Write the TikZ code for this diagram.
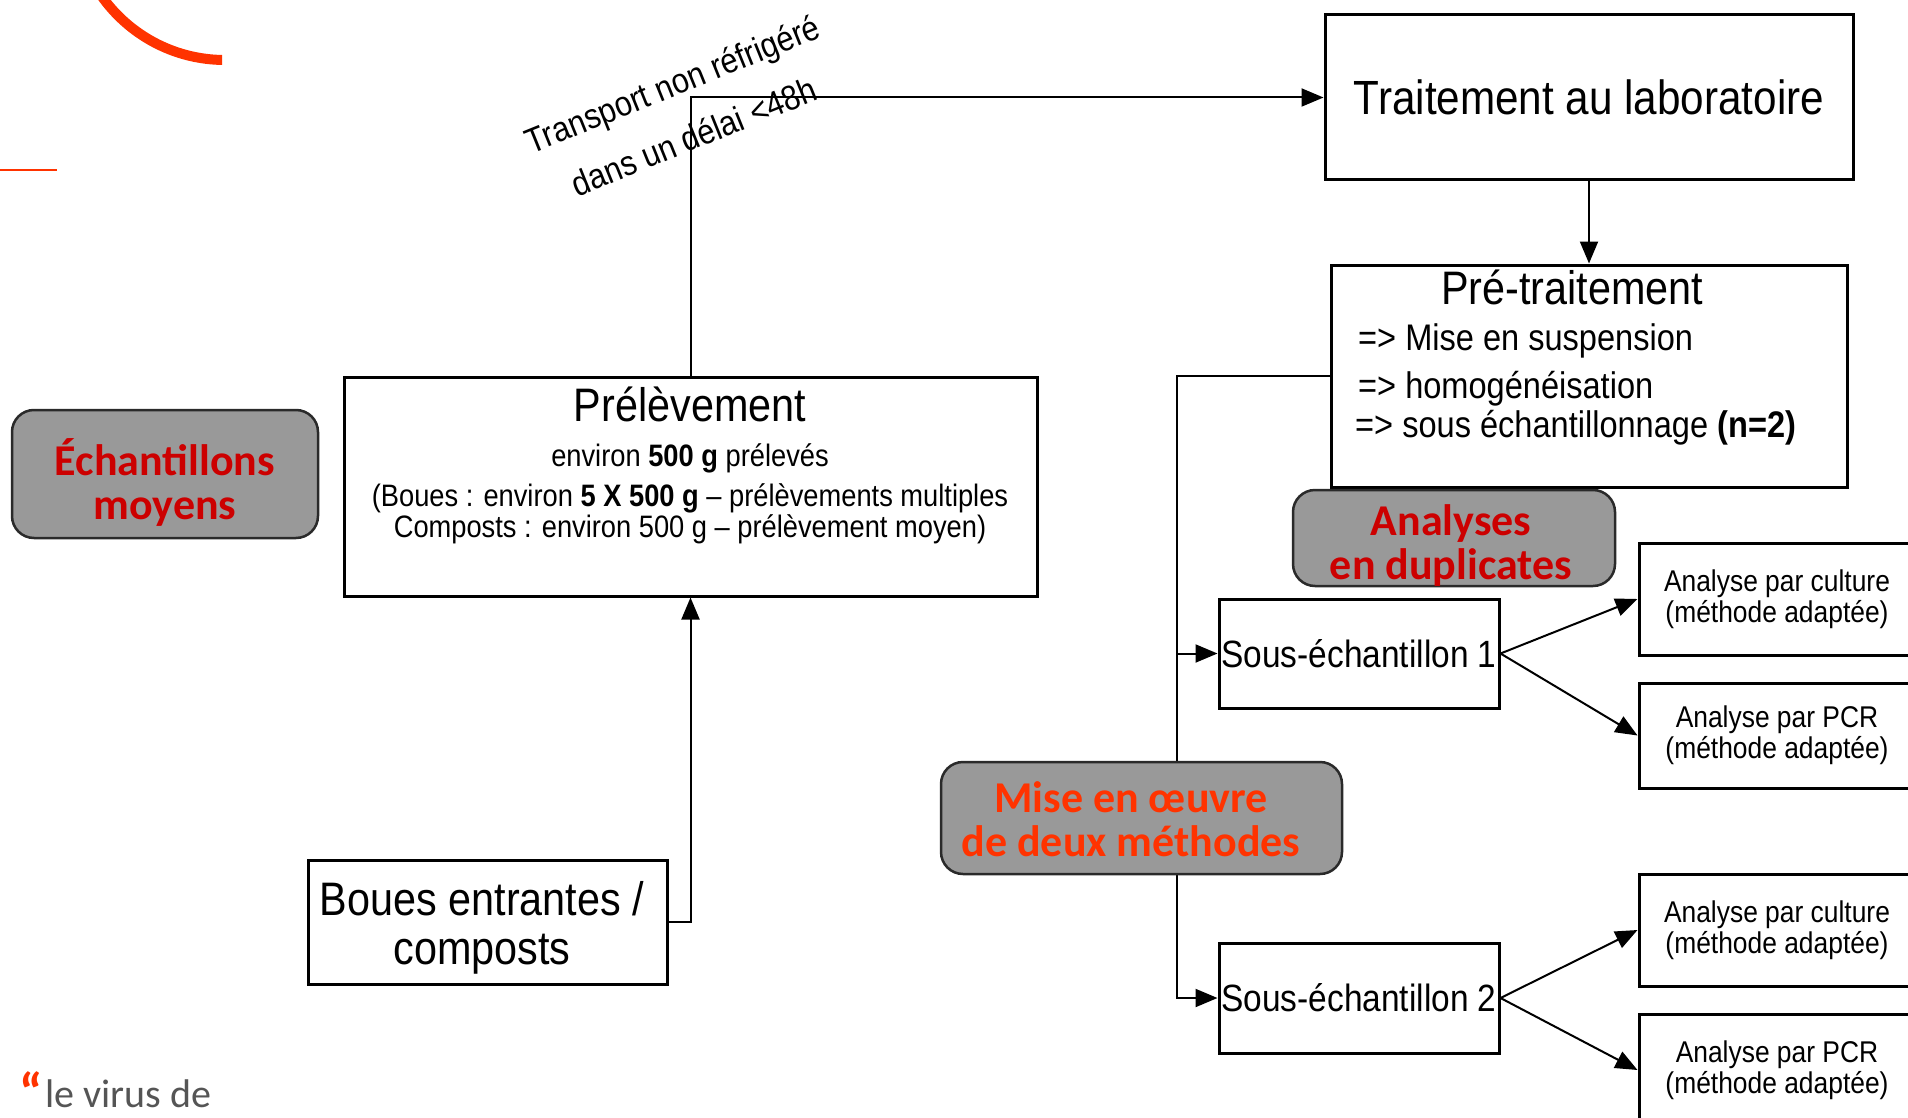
\documentclass[tikz,border=0pt]{standalone}
\usepackage{fontspec}
\setmainfont{Liberation Sans}
\newfontfamily\pix[FakeStretch=0.88]{Liberation Sans}
\newfontfamily\calfont{Carlito}
\usetikzlibrary{arrows.meta}
\definecolor{lbl}{HTML}{CC0000}
\definecolor{lblo}{HTML}{FF3300}
\definecolor{tagfill}{HTML}{999999}
\definecolor{tagedge}{HTML}{2A2A2A}
\definecolor{virusgray}{HTML}{555555}
\pgfdeclarelayer{bg}
\pgfsetlayers{bg,main}
\tikzset{
  box/.style={draw=black, line width=3pt, fill=white, inner sep=0pt, align=center},
  tag/.style={draw=tagedge, line width=2.5pt, fill=tagfill, rounded corners=22pt, inner sep=0pt},
  link/.style={draw=black, line width=2pt},
  arr/.style={link, -{Triangle[length=22pt,width=18pt]}},
  ptxt/.style={font=\pix\fontsize{#1}{#1}\selectfont, inner sep=0pt},
  tagtxt/.style={font=\calfont\bfseries\fontsize{44}{44}\selectfont, inner sep=0pt, align=center},
}
\begin{document}
\begin{tikzpicture}[x=1pt,y=-1pt]
\useasboundingbox (0,0) rectangle (1908,1118);
\clip (0,0) rectangle (1908,1118);

% decorative red marks
\begin{scope}
  \clip (0,0) rectangle (222,90);
  \draw[lblo, line width=10pt] (225,-91) circle[radius=151pt];
\end{scope}
\draw[lblo, line width=2.5pt] (0,170) -- (57,170);
\node[font=\calfont\bfseries\fontsize{54}{54}\selectfont, text=lblo, inner sep=0pt] (quote) at (31,1092) {“};
\node[anchor=west, font=\calfont\fontsize{40}{40}\selectfont, text=virusgray, inner sep=0pt] (virus) at (45,1094) {le virus de};

% boxes
\node[box, minimum width=528pt, minimum height=165pt, ptxt=48] (trait) at (1589,97.5) {Traitement au laboratoire};

\node[box, minimum width=516pt, minimum height=222pt] (pre) at (1589,376) {};
\node[ptxt=47] (preT) at (1572,287) {Pré-traitement};
\node[ptxt=37, anchor=west] (pre1) at (1358,341) {=> Mise en suspension};
\node[ptxt=37, anchor=west] (pre2) at (1358,389) {=> homogénéisation};
\node[ptxt=37, anchor=west] (pre3) at (1355,428) {=> sous échantillonnage {\bfseries(n=2)}};

\node[box, minimum width=693pt, minimum height=219pt] (prel) at (690.5,486.5) {};
\node[ptxt=47] (prelT) at (690,404) {Prélèvement};
\node[ptxt=31] (prel1) at (690,458) {environ {\bfseries 500 g} prélevés};
\node[ptxt=31] (prel2) at (690,498) {(Boues : environ {\bfseries 5 X 500 g} – prélèvements multiples};
\node[ptxt=31] (prel3) at (690,529) {Composts : environ 500 g – prélèvement moyen)};

\node[box, minimum width=359pt, minimum height=124pt] (boues) at (487.5,922) {};
\node[font=\pix\fontsize{47}{49}\selectfont, align=center, inner sep=0pt] (bouesT) at (482,928) {Boues entrantes /\\composts};

\node[box, minimum width=280pt, minimum height=109pt, ptxt=38] (se1) at (1359,653.5) {Sous-échantillon 1};
\node[box, minimum width=280pt, minimum height=110pt, ptxt=38] (se2) at (1359,998) {Sous-échantillon 2};

\tikzset{ana/.style={box, minimum width=276pt, font=\pix\fontsize{30}{31}\selectfont}}
\node[ana, minimum height=112pt] (cul1) at (1777,599) {Analyse par culture\\(méthode adaptée)};
\node[ana, minimum height=105pt] (pcr1) at (1777,735.5) {Analyse par PCR\\(méthode adaptée)};
\node[ana, minimum height=112pt] (cul2) at (1777,930) {Analyse par culture\\(méthode adaptée)};
\node[ana, minimum height=112pt] (pcr2) at (1777,1070) {Analyse par PCR\\(méthode adaptée)};

% grey tags
\node[tag, minimum width=306pt, minimum height=128pt] (ech) at (165,474) {};
\node[tagtxt, text=lbl] (echT) at (165,482) {Échantillons\\moyens};
\node[tag, minimum width=322pt, minimum height=96pt] (dup) at (1454,538) {};
\node[tagtxt, text=lbl] (dupT) at (1451,546) {Analyses\\en duplicates};
\node[tag, minimum width=401pt, minimum height=112pt] (mise) at (1141.5,818) {};
\node[tagtxt, text=lblo] (miseT) at (1131,819) {Mise en œuvre\\de deux méthodes};

% rotated label
\node[font=\pix\fontsize{35}{57}\selectfont, rotate=22, align=center, inner sep=0pt] (transp) at (683,110) {Transport non réfrigéré\\dans un délai <48h};

% connectors
\coordinate (bus) at (1177,0);
\begin{pgfonlayer}{bg}
\draw[arr] (prel.north) |- (trait.west);
\draw[arr] (trait.south) -- (pre.north);
\draw[arr] (pre.west) -| (bus |- se2.west) -- (se2.west);
\draw[arr] (bus |- se1.west) -- (se1.west);
\draw[arr] (se1.east) -- (cul1.west);
\draw[arr] (se1.east) -- (pcr1.west);
\draw[arr] (se2.east) -- (cul2.west);
\draw[arr] (se2.east) -- (pcr2.west);
\draw[arr] (boues.east) -| (prel.south);
\end{pgfonlayer}
\end{tikzpicture}
\end{document}
